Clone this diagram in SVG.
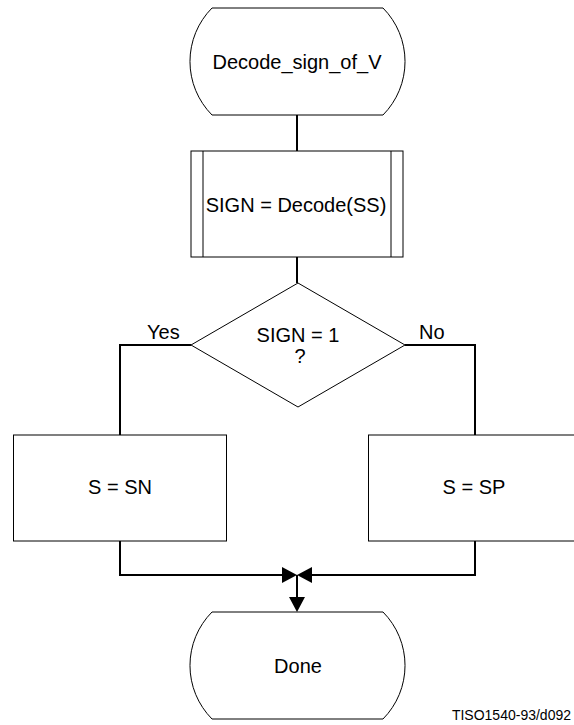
<svg xmlns="http://www.w3.org/2000/svg" width="574" height="725" viewBox="0 0 574 725">
  <style>
    .shape { fill: #ffffff; stroke: #000000; stroke-width: 1; }
    .conn { fill: none; stroke: #000000; stroke-width: 2; }
    .head { fill: #000000; stroke: none; }
    text { font-family: "Liberation Sans", Arial, sans-serif; font-size: 20px; fill: #000000; }
    .c { text-anchor: middle; }
    .small { font-size: 14px; text-anchor: end; }
  </style>
  <rect x="0" y="0" width="574" height="725" fill="#ffffff"/>
  <g id="connectors">
    <path class="conn" d="M297,115 L297,151"/>
    <path class="conn" d="M297,257 L297,283"/>
    <path class="conn" d="M191,345 L120,345 L120,435"/>
    <path class="conn" d="M405,345 L475,345 L475,435"/>
    <path class="conn" d="M120,541 L120,575 L284,575"/>
    <path class="conn" d="M475,541 L475,575 L310,575"/>
    <path class="conn" d="M297,575 L297,598"/>
    <polygon class="head" points="297,575 282,567 282,583"/>
    <polygon class="head" points="297,575 312,567 312,583"/>
    <polygon class="head" points="297,612 289,597 305,597"/>
    <text x="147" y="339">Yes</text>
    <text x="419" y="339">No</text>
  </g>
  <g id="start">
    <path class="shape" d="M212,8 L383,8 A76,76 0 0 1 383,115 L212,115 A76,76 0 0 1 212,8 Z"/>
    <text class="c" x="297" y="69">Decode_sign_of_V</text>
  </g>
  <g id="decode">
    <rect class="shape" x="191" y="151" width="212" height="106"/>
    <line class="shape" x1="203" y1="151" x2="203" y2="257"/>
    <line class="shape" x1="391" y1="151" x2="391" y2="257"/>
    <text class="c" x="296" y="212">SIGN = Decode(SS)</text>
  </g>
  <g id="decision">
    <polygon class="shape" points="298,283 405,345 298,407 191,345"/>
    <text class="c" x="298" y="342">SIGN = 1</text>
    <text class="c" x="300" y="363">?</text>
  </g>
  <g id="sn">
    <rect class="shape" x="13.5" y="435" width="213" height="106"/>
    <text class="c" x="120" y="494">S = SN</text>
  </g>
  <g id="sp">
    <rect class="shape" x="368.5" y="435" width="213" height="106"/>
    <text class="c" x="474" y="494">S = SP</text>
  </g>
  <g id="done">
    <path class="shape" d="M212,612 L383,612 A76,76 0 0 1 383,719 L212,719 A76,76 0 0 1 212,612 Z"/>
    <text class="c" x="298" y="673">Done</text>
  </g>
  <text class="small" x="571" y="720">TISO1540-93/d092</text>
</svg>
